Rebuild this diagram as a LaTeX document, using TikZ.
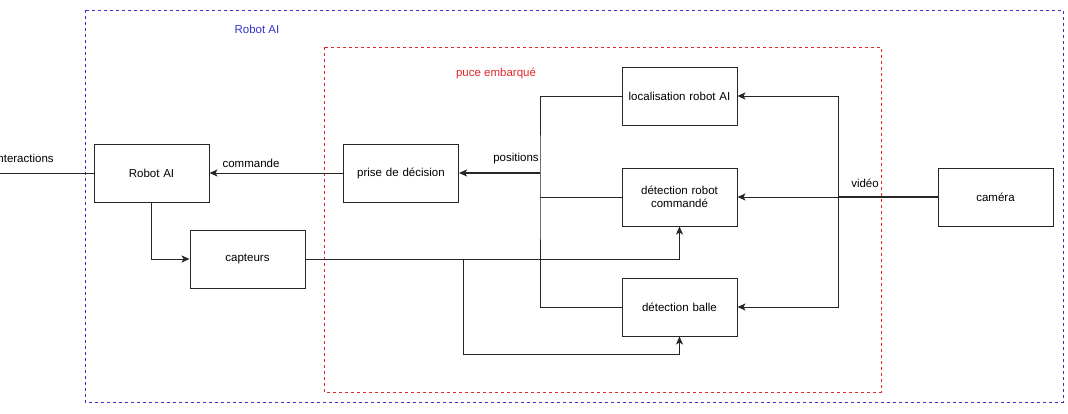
\documentclass[tikz,border=0pt]{standalone}
\usepackage{fontspec}
\setmainfont{Liberation Sans}
\usetikzlibrary{arrows.meta}
\definecolor{bleu}{RGB}{51,51,204}
\definecolor{rouge}{RGB}{226,40,40}
\begin{document}
\begin{tikzpicture}[x=1pt,y=-1pt,>={Stealth[length=8pt,width=7pt,inset=2pt]},line width=1pt,draw=black!85]
	\fontsize{11.5}{13.5}\selectfont
	\tikzstyle{bloc}=[rectangle,draw=black!85,minimum width=115pt,minimum height=58pt,text width=108pt,align=center,inner sep=0pt]
	\tikzstyle{cadre}=[dash pattern=on 3pt off 3pt,line width=0.9pt]
	\tikzstyle{epais}=[line width=1.8pt]

	\def \xbus{540}
	\def \xvid{838}

	\useasboundingbox (0,0) rectangle (1068,413);

	% cadres
	\draw[cadre,draw=bleu] (85,10) rectangle (1063,402);
	\draw[cadre,draw=rouge] (324,47) rectangle (881,392);
	\node[text=bleu] 	(t-robot)	at (257,29)		{Robot AI};
	\node[text=rouge] 	(t-puce)	at (496,73)		{puce embarqué};

	\node[bloc] 	(robot)		at (151.5,173)	{Robot AI};
	\node[bloc] 	(capteurs)	at (247.5,259)	{capteurs};
	\node[bloc] 	(decision)	at (401,173)	{prise de décision};

	\node[bloc] 	(loca)		at (679.5,96)	{localisation robot AI};
	\node[bloc] 	(detrobot)	at (679.5,197)	{détection robot\\commandé};
	\node[bloc] 	(detballe)	at (679.5,307)	{détection balle};

	\node[bloc] 	(camera)	at (995.5,197)	{caméra};

	\coordinate (inter)		at (0,173);
	\coordinate (bus)		at (\xbus,173);
	\coordinate (video)		at (\xvid,197);
	\coordinate (fourche)	at (463,259);
	\coordinate (retour)	at (463,354);

	% textes des liens
	\node[anchor=east] 	(l-inter)	at (58,158)		{interactions};
	\node 	(l-commande)	at (251,163)	{commande};
	\node 	(l-positions)	at (516,159)	{positions};
	\node 	(l-video)		at (865,183)	{vidéo};

	\draw (inter) -- (robot);
	\draw[->] (decision) -- (robot);
	\draw[->] (robot) |- (capteurs);

	% bus positions
	\draw[->,epais] (bus) -- (decision);
	\draw (loca.west) -| (bus) |- (detballe.west);
	\draw (detrobot.west) -- (detrobot.west -| bus);

	% video
	\draw[epais] (camera) -- (video);
	\draw[->] (video) |- (loca.east);
	\draw[->] (video) |- (detballe.east);
	\draw[->] (video) -- (detrobot.east);

	% capteurs
	\draw[->] (capteurs.east) -| (detrobot.south);
	\draw[->] (fourche) -- (retour) -| (detballe.south);
\end{tikzpicture}
\end{document}
